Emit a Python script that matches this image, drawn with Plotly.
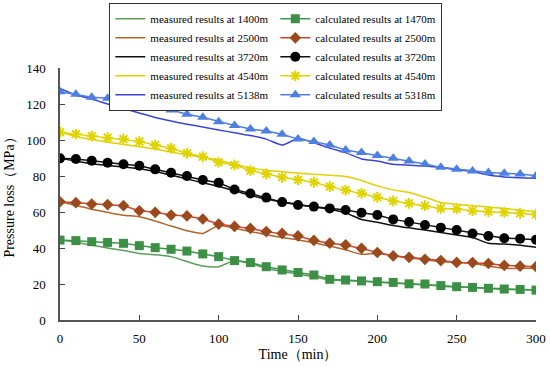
import plotly.graph_objects as go

time_min = list(range(0, 301, 10))
x_ticks = [0, 50, 100, 150, 200, 250, 300]
y_ticks = [0, 20, 40, 60, 80, 100, 120, 140]

meas_1400 = [44.4, 43.2, 41.6, 40.0, 38.6, 37.0, 36.3, 35.2, 32.5, 30.0, 29.6, 33.0, 31.3, 28.8, 27.0, 25.5,
             24.0, 22.2, 21.9, 21.5, 21.0, 20.6, 19.8, 19.6, 18.8, 18.3, 18.0, 17.5, 17.0, 16.8, 16.6]
calc_1470 = [44.4, 44.1, 43.5, 43.1, 42.6, 41.3, 40.2, 39.3, 38.3, 36.7, 35.2, 33.0, 31.9, 29.6, 27.8, 26.4,
             25.0, 22.6, 22.2, 21.7, 21.3, 20.9, 20.1, 20.0, 19.1, 18.5, 18.1, 17.6, 17.2, 17.0, 16.6]
meas_2500 = [65.7, 63.8, 61.5, 59.8, 58.2, 57.4, 55.0, 52.2, 49.6, 48.1, 52.5, 51.0, 49.2, 47.3, 45.8, 44.5,
             42.9, 41.0, 39.0, 36.5, 37.0, 35.8, 34.5, 33.5, 32.5, 32.0, 31.4, 30.0, 28.7, 28.7, 28.7]
calc_2500 = [65.7, 65.2, 64.4, 64.1, 63.5, 60.7, 59.8, 58.3, 57.8, 56.1, 53.3, 52.0, 50.9, 49.1, 48.1, 46.7,
             44.2, 42.7, 41.7, 39.8, 37.5, 35.6, 34.8, 33.7, 33.0, 32.0, 31.9, 31.4, 30.3, 29.9, 29.6]
meas_3720 = [89.8, 88.2, 86.8, 85.8, 85.0, 84.0, 82.5, 80.5, 78.3, 76.3, 74.2, 71.8, 69.3, 67.2, 65.5, 64.3,
             62.8, 61.5, 59.5, 55.8, 54.3, 52.5, 51.2, 50.0, 48.6, 47.2, 45.8, 42.6, 42.2, 41.5, 40.4]
calc_3720 = [89.8, 89.4, 88.5, 87.4, 86.5, 85.7, 83.7, 81.8, 80.0, 77.8, 76.3, 72.5, 70.3, 68.0, 65.5, 63.9,
             63.0, 62.0, 61.1, 59.6, 58.3, 55.9, 54.4, 52.8, 51.3, 50.0, 48.1, 46.7, 45.4, 45.2, 44.6]
meas_4540 = [104.3, 102.0, 100.3, 98.8, 97.5, 96.3, 95.0, 93.3, 91.8, 90.3, 88.8, 86.5, 84.5, 83.2, 82.4, 81.6,
             81.0, 80.4, 79.7, 77.5, 74.5, 72.3, 70.8, 68.2, 65.3, 64.3, 63.5, 62.8, 62.0, 61.0, 60.2]
calc_4540 = [104.3, 103.3, 102.2, 101.3, 100.5, 99.1, 97.2, 95.4, 92.6, 90.7, 87.6, 86.1, 83.0, 81.1, 79.3, 77.9,
             76.5, 74.1, 72.2, 70.4, 68.2, 66.1, 64.8, 63.5, 62.0, 61.7, 60.7, 60.2, 59.8, 59.3, 58.6]
meas_5138 = [128.7, 125.0, 122.8, 120.0, 117.5, 115.0, 112.5, 110.5, 108.8, 107.2, 105.6, 104.0, 102.5, 100.5, 97.2, 100.8,
             98.5, 95.5, 93.0, 89.5, 88.3, 86.5, 86.0, 85.6, 84.8, 83.5, 82.5, 80.5, 79.5, 79.0, 78.8]
calc_5318 = [126.8, 125.4, 123.7, 123.2, 122.2, 120.8, 119.0, 116.7, 114.3, 112.6, 110.2, 108.0, 106.1, 105.0, 103.2, 100.5,
             99.1, 97.2, 94.5, 93.0, 91.4, 89.8, 88.3, 86.7, 84.8, 83.7, 82.8, 81.9, 81.5, 81.1, 80.2]

series = [
    ("measured results at 1400m", meas_1400, "#5c9e5c", None, None),
    ("calculated results at 1470m", calc_1470, "#3a9a4a", "square", "#3d8f45"),
    ("measured results at 2500m", meas_2500, "#b0662a", None, None),
    ("calculated results at 2500m", calc_2500, "#d8412a", "diamond", "#9a4a1c"),
    ("measured results at 3720m", meas_3720, "#111111", None, None),
    ("calculated results at 3720m", calc_3720, "#111111", "circle", "#000000"),
    ("measured results at 4540m", meas_4540, "#e3d000", None, None),
    ("calculated results at 4540m", calc_4540, "#e0d400", "asterisk-open", "#c9d400"),
    ("measured results at 5138m", meas_5138, "#3a45d6", None, None),
    ("calculated results at 5318m", calc_5318, "#4d7fe0", "triangle-up", "#4d7fe0"),
]

fig = go.Figure()
for name, vals, color, sym, mcol in series:
    if sym is None:
        fig.add_trace(go.Scatter(x=time_min, y=vals, name=name, mode="lines",
                                 line=dict(color=color, width=1.5, shape="spline", smoothing=0.6)))
    else:
        mk = dict(symbol=sym, color=mcol, size=9)
        if sym == "asterisk-open":
            mk = dict(symbol=sym, size=9, line=dict(color=mcol, width=2))
        elif sym in ("circle", "triangle-up"):
            mk["size"] = 10
        fig.add_trace(go.Scatter(x=time_min, y=vals, name=name, mode="lines+markers",
                                 line=dict(color=color, width=1.5), marker=mk))

font_family = "Liberation Serif, Times New Roman, serif"
fig.update_layout(
    width=550, height=367,
    margin=dict(l=60, r=14, t=68, b=47, autoexpand=False),
    paper_bgcolor="white", plot_bgcolor="white",
    font=dict(family=font_family, size=13, color="black"),
    showlegend=True,
    legend=dict(orientation="h", x=0.103, xanchor="left", y=1.258, yanchor="top",
                entrywidth=120, entrywidthmode="pixels",
                bgcolor="white", bordercolor="#333333", borderwidth=1.3,
                font=dict(family=font_family, size=11, color="black"),
                itemwidth=30, tracegroupgap=0),
    xaxis=dict(range=[0, 300], tickvals=x_ticks, ticks="inside", ticklen=5, tickcolor="#444",
               showline=True, linecolor="#555", linewidth=1.5, showgrid=False, zeroline=False,
               automargin=False,
               ticklabelstandoff=6, title=dict(text="Time（min）", standoff=4,
               font=dict(family=font_family, size=14))),
    yaxis=dict(range=[0, 140], tickvals=y_ticks, ticks="inside", ticklen=5, tickcolor="#444",
               showline=True, linecolor="#555", linewidth=1.5, showgrid=False, zeroline=False,
               automargin=False,
               ticklabelstandoff=10, title=dict(text="Pressure loss（MPa）", standoff=8,
               font=dict(family=font_family, size=14))),
)

fig.write_html("out.html", config={"displayModeBar": False},
               post_script="document.body.style.margin='0';document.body.style.padding='0';document.body.style.overflow='hidden';")
